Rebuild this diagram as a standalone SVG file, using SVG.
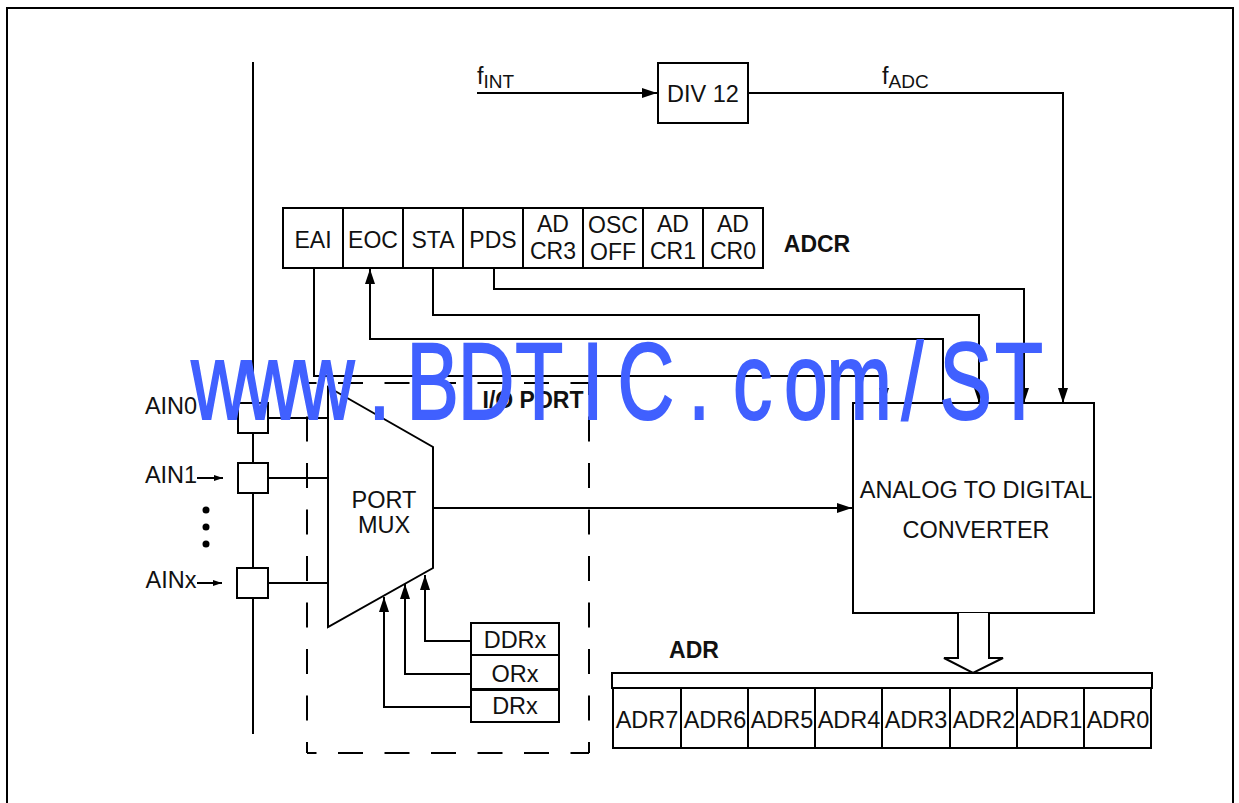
<svg xmlns="http://www.w3.org/2000/svg" width="1239" height="803" viewBox="0 0 1239 803">
<defs>
<marker id="a" markerUnits="userSpaceOnUse" markerWidth="16" markerHeight="12" refX="15" refY="5.500" orient="auto"><path d="M0,0.500L15,5.500L0,10.500z" fill="#000"/></marker>
<marker id="s" markerUnits="userSpaceOnUse" markerWidth="10" markerHeight="8" refX="9" refY="4" orient="auto"><path d="M0,1L9,4L0,7z" fill="#000"/></marker>
</defs>
<style>
text{font-family:"Liberation Sans",Arial,sans-serif;font-size:23.500px;fill:#111;text-anchor:middle}
.b{font-weight:bold;font-size:23px}
.l{text-anchor:start}
.sub{font-size:19px}
#adcr text{font-size:23px}
rect,.p{fill:#fff;stroke:#000;stroke-width:2}
.c{fill:none;stroke:#000;stroke-width:2}
text.wm{fill:#4060ff;stroke:#4060ff;stroke-width:2;font-size:109px}
</style>
<rect id="frame" x="7" y="8" width="1226" height="810" style="fill:none"/>
<g id="connectors" class="c">
<path d="M253,62V734"/>
<path d="M477,93H657" marker-end="url(#a)"/>
<path d="M749,93H1063V403" marker-end="url(#a)"/>
<path d="M314,268V376H884V403" marker-end="url(#a)"/>
<path d="M943,403V339H370V269" marker-end="url(#a)"/>
<path d="M433,268V315H979V403" marker-end="url(#a)"/>
<path d="M494,268V289H1024V403" marker-end="url(#a)"/>
<path d="M268,418H328M268,478H328M268,583H328"/>
<path d="M434,508H852" marker-end="url(#a)"/>
<path d="M197,478H223" marker-end="url(#s)"/>
<path d="M197,583H222" marker-end="url(#s)"/>
<path d="M471,641H425V575" marker-end="url(#a)"/>
<path d="M471,674H405V584" marker-end="url(#a)"/>
<path d="M471,707H384V597" marker-end="url(#a)"/>
<g stroke-dasharray="25 21.500">
<path d="M307,383V753" stroke-dashoffset="13"/>
<path d="M589,383V753" stroke-dashoffset="13"/>
<path d="M307,383H589" stroke-dashoffset="15.500"/>
<path d="M307,753H589" stroke-dashoffset="15.500"/>
</g>
</g>
<g id="ain0"><rect x="238" y="403" width="30" height="30"/><text x="171" y="414">AIN0</text></g>
<g id="ain1"><rect x="238" y="463" width="30" height="30"/><text x="171" y="483">AIN1</text></g>
<g id="ainx"><rect x="237" y="568" width="31" height="30"/><text x="171" y="588">AINx</text></g>
<g id="dots" style="fill:#000"><circle cx="206" cy="510" r="3.500"/><circle cx="206" cy="527" r="3.500"/><circle cx="206" cy="544" r="3.500"/></g>
<g id="mux"><path class="p" d="M328,387L433,447V568L328,627z"/><text x="384" y="508">PORT</text><text x="384" y="533">MUX</text></g>
<text id="ioport" class="b" x="533" y="408">I/O PORT</text>
<g id="ddrx"><rect x="471" y="623" width="88" height="32"/><text x="515" y="648">DDRx</text></g>
<g id="orx"><rect x="471" y="655" width="88" height="34"/><text x="515" y="682">ORx</text></g>
<g id="drx"><rect x="471" y="690" width="88" height="32"/><text x="515" y="714">DRx</text></g>
<g id="fint"><text class="l" x="477" y="84">f<tspan class="sub" dy="4">INT</tspan></text></g>
<g id="fadc"><text class="l" x="882" y="84">f<tspan class="sub" dy="4">ADC</tspan></text></g>
<g id="div12"><rect x="658" y="63" width="90" height="60"/><text x="703" y="102">DIV 12</text></g>
<g id="adcr">
<rect x="283" y="208" width="60" height="60"/><rect x="343" y="208" width="60" height="60"/><rect x="403" y="208" width="60" height="60"/><rect x="463" y="208" width="60" height="60"/><rect x="523" y="208" width="60" height="60"/><rect x="583" y="208" width="60" height="60"/><rect x="643" y="208" width="60" height="60"/><rect x="703" y="208" width="60" height="60"/>
<text x="313" y="248">EAI</text><text x="373" y="248">EOC</text><text x="433" y="248">STA</text><text x="493" y="248">PDS</text>
<text x="553" y="232">AD</text><text x="553" y="259">CR3</text><text x="613" y="233">OSC</text><text x="613" y="260">OFF</text><text x="673" y="232">AD</text><text x="673" y="259">CR1</text><text x="733" y="232">AD</text><text x="733" y="259">CR0</text>
<text class="b" x="817" y="252">ADCR</text>
</g>
<g id="adc"><rect x="853" y="403" width="241" height="210"/><text x="976" y="498">ANALOG TO DIGITAL</text><text x="976" y="538">CONVERTER</text></g>
<g id="bus"><path class="p" d="M958,613V658H944L973,673L1003,658H989V613"/></g>
<g id="adr">
<rect x="612" y="673" width="540" height="15"/>
<rect x="613" y="688" width="68" height="60"/><rect x="681" y="688" width="67" height="60"/><rect x="748" y="688" width="67" height="60"/><rect x="815" y="688" width="67" height="60"/><rect x="882" y="688" width="68" height="60"/><rect x="950" y="688" width="67" height="60"/><rect x="1017" y="688" width="67" height="60"/><rect x="1084" y="688" width="67" height="60"/>
<text x="647" y="728">ADR7</text><text x="715" y="728">ADR6</text><text x="782" y="728">ADR5</text><text x="849" y="728">ADR4</text><text x="916" y="728">ADR3</text><text x="984" y="728">ADR2</text><text x="1051" y="728">ADR1</text><text x="1118" y="728">ADR0</text>
<text class="b" x="694" y="658">ADR</text>
</g>
<text id="watermark" class="wm" transform="translate(0 418.500) scale(0.72 1)" x="304.860 378.890 452.920 526.950 600.980 675.010 749.040 823.070 897.100 971.130 1045.160 1119.190 1193.220 1267.250 1341.280 1415.310" y="0">www.BDTIC.com/ST</text>
</svg>
